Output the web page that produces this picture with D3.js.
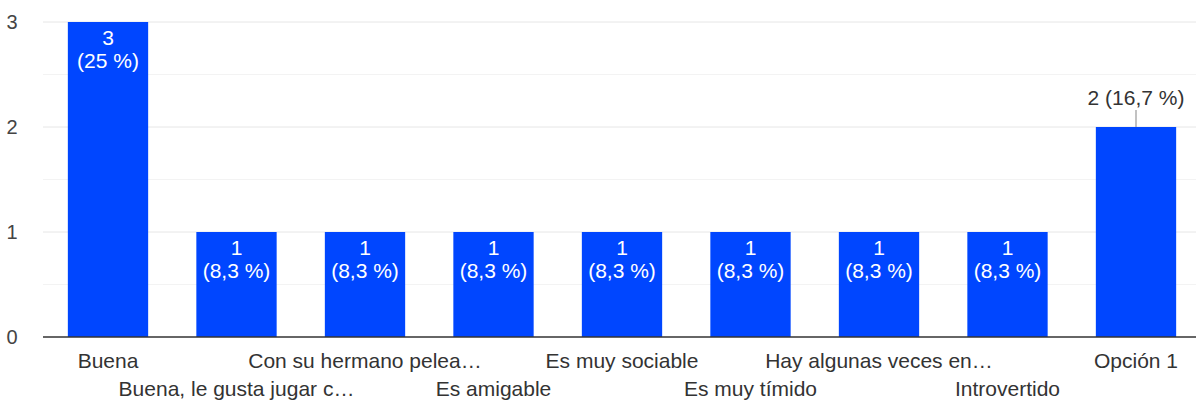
<!DOCTYPE html>
<html><head><meta charset="utf-8">
<script src="https://cdn.jsdelivr.net/npm/d3@7"></script>
<style>html,body{margin:0;padding:0;background:#fff;}svg{display:block;}</style>
</head><body>
<script>
const categories = ["Buena","Buena, le gusta jugar c…","Con su hermano pelea…","Es amigable","Es muy sociable","Es muy tímido","Hay algunas veces en…","Introvertido","Opción 1"];
const values = [3,1,1,1,1,1,1,1,2];
const percents = ["25 %","8,3 %","8,3 %","8,3 %","8,3 %","8,3 %","8,3 %","8,3 %","16,7 %"];
const yTicks = [0,1,2,3];
const yGrid = [0.5,1,1.5,2,2.5,3];

const W=1196,H=401;
const svg=d3.select("body").append("svg").attr("width",W).attr("height",H);
const font="'Liberation Sans', Arial, sans-serif";
const x=d3.scaleBand().domain(categories).range([43.75,1200.25]).paddingInner(0.375).paddingOuter(0.1875);
const y=d3.scaleLinear().domain([0,3]).range([337,22]);

svg.append("g").selectAll("line").data(yGrid).join("line")
  .attr("x1",43).attr("x2",W).attr("y1",d=>y(d)).attr("y2",d=>y(d))
  .attr("stroke",d=>Number.isInteger(d)?"#e6e6e6":"#f3f3f3").attr("stroke-width",1);

svg.append("g").selectAll("text").data(yTicks).join("text")
  .attr("x",12).attr("y",d=>y(d)).attr("dy","0.35em").attr("text-anchor","middle")
  .attr("font-family",font).attr("font-size",20).attr("fill","#444").text(d=>d);

svg.append("g").selectAll("rect").data(values).join("rect")
  .attr("x",(d,i)=>x(categories[i])).attr("width",x.bandwidth())
  .attr("y",d=>y(d)).attr("height",d=>y(0)-y(d)).attr("fill","#0046ff");

svg.append("line").attr("x1",43).attr("x2",W).attr("y1",y(0)).attr("y2",y(0)).attr("stroke","#333").attr("stroke-width",1.5);

const lab=svg.append("g").attr("font-family",font).attr("font-size",21);
values.forEach((v,i)=>{
  const cx=x(categories[i])+x.bandwidth()/2;
  if(i===values.length-1){
    lab.append("line").attr("x1",cx).attr("x2",cx).attr("y1",y(v)-17).attr("y2",y(v)).attr("stroke","#999").attr("stroke-width",1.2);
    lab.append("text").attr("x",cx).attr("y",y(v)-29).attr("dy","0.35em").attr("text-anchor","middle").attr("fill","#333").text(v+" ("+percents[i]+")");
  } else {
    lab.append("text").attr("x",cx).attr("y",y(v)+15.5).attr("dy","0.35em").attr("text-anchor","middle").attr("fill","#fff").text(v);
    lab.append("text").attr("x",cx).attr("y",y(v)+39).attr("dy","0.35em").attr("text-anchor","middle").attr("fill","#fff").text("("+percents[i]+")");
  }
});

svg.append("g").selectAll("text").data(categories).join("text")
  .attr("x",d=>x(d)+x.bandwidth()/2).attr("y",(d,i)=>i%2===0?361:389).attr("dy","0.35em")
  .attr("text-anchor","middle").attr("font-family",font).attr("font-size",21).attr("fill","#333").text(d=>d);
</script>
</body></html>
